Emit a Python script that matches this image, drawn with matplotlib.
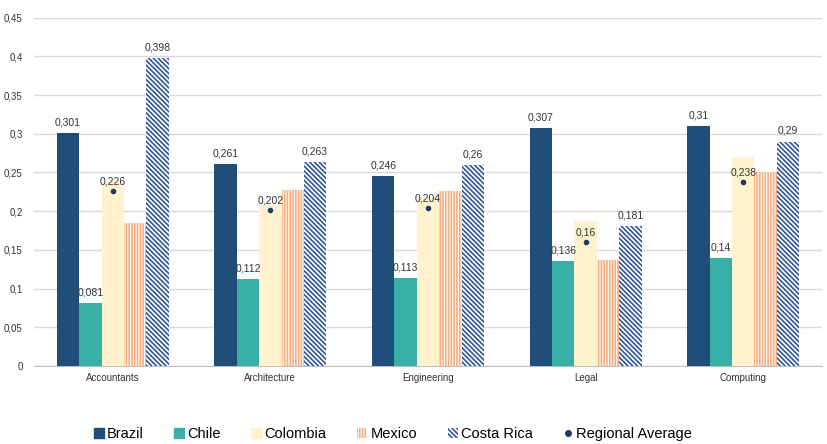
import numpy as np
import matplotlib
matplotlib.use('Agg')
import matplotlib.pyplot as plt
from matplotlib.lines import Line2D
from matplotlib.patches import Patch

plt.rcParams['font.family'] = ['Liberation Sans', 'DejaVu Sans']
plt.rcParams['hatch.linewidth'] = 1.2

categories = ['Accountants', 'Architecture', 'Engineering', 'Legal', 'Computing']
brazil     = [0.301, 0.261, 0.246, 0.307, 0.31]
chile      = [0.081, 0.112, 0.113, 0.136, 0.14]
colombia   = [0.238, 0.208, 0.218, 0.187, 0.270]
mexico     = [0.185, 0.227, 0.226, 0.137, 0.251]
costa_rica = [0.398, 0.263, 0.26, 0.181, 0.29]
regional   = [0.226, 0.202, 0.204, 0.16, 0.238]

def fmt(v):
    return ('%g' % v).replace('.', ',')

fig = plt.figure(figsize=(8.27, 4.44), dpi=100)
ax = fig.add_axes([0.041, 0.176, 0.953, 0.784])

xpos = np.arange(len(categories))
width = 0.142

styles = [
    ('Brazil',     brazil,     dict(color='#1f4e79')),
    ('Chile',      chile,      dict(color='#38afa7')),
    ('Colombia',   colombia,   dict(color='#fff2cc')),
    ('Mexico',     mexico,     dict(facecolor='white', edgecolor='#f4ac7c', hatch='|' * 6, linewidth=0)),
    ('Costa Rica', costa_rica, dict(facecolor='white', edgecolor='#2f5597', hatch='\\' * 7, linewidth=0)),
]

handles = []
for i, (name, vals, kw) in enumerate(styles):
    bars = ax.bar(xpos + (i - 2) * width, vals, width, zorder=3, **kw)
    handles.append(Patch(label=name, **kw))
    if name in ('Brazil', 'Chile', 'Costa Rica'):
        for b, v in zip(bars, vals):
            ax.annotate(fmt(v), (b.get_x() + b.get_width() / 2, v),
                        xytext=(0, 4), textcoords='offset points',
                        ha='center', va='bottom', fontsize=7.5, color='#333333', zorder=5)

# regional average markers on the Colombia bars
ax.scatter(xpos, regional, s=9, color='#1f3864', zorder=6)
for x, v in zip(xpos, regional):
    ax.annotate(fmt(v), (x, v), xytext=(0, 3), textcoords='offset points',
                ha='center', va='bottom', fontsize=7.5, color='#333333', zorder=6)
handles.append(Line2D([], [], marker='o', linestyle='none', markersize=4,
                      color='#1f3864', label='Regional Average'))

ax.set_xlim(-0.5, len(categories) - 0.5)
ax.set_ylim(0, 0.45)
ax.set_yticks(np.arange(0, 0.451, 0.05))
ax.set_yticklabels([fmt(round(t, 2)) for t in np.arange(0, 0.451, 0.05)])
ax.set_xticks(xpos)
ax.set_xticklabels(categories)
ax.tick_params(axis='both', length=0, labelsize=7, colors='#333333')
ax.tick_params(axis='y', pad=8)
ax.tick_params(axis='x', pad=5)

ax.grid(axis='y', color='#d9d9d9', linewidth=1, zorder=0)
ax.set_axisbelow(True)
for s in ['top', 'right', 'left']:
    ax.spines[s].set_visible(False)
ax.spines['bottom'].set_color('#bfbfbf')

fig.legend(handles=handles, loc='center', bbox_to_anchor=(0.475, 0.022),
           ncol=6, frameon=False, fontsize=10.5, handlelength=0.7,
           handleheight=0.7, handletextpad=0.2, columnspacing=2.1)

plt.savefig('out.png', dpi=100)
